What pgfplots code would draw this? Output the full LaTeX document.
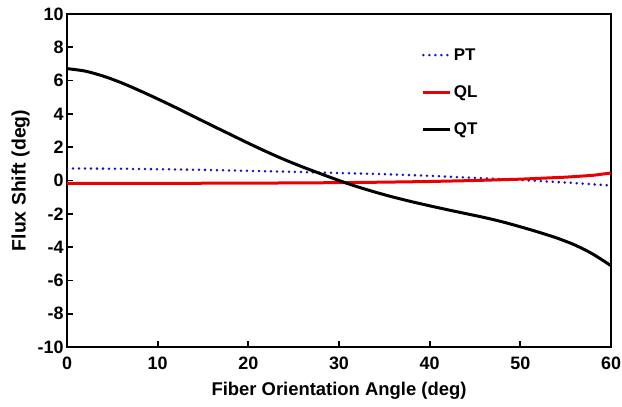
\documentclass[border=0pt]{standalone}
\usepackage{fontspec}
\setmainfont{Liberation Sans}
\usepackage{pgfplots}
\pgfplotsset{compat=1.18}

\definecolor{ptblue}{RGB}{20,20,185}
\definecolor{qlred}{RGB}{235,0,0}

\begin{document}
\begin{tikzpicture}
\begin{axis}[
    scale only axis,
    width=544bp, height=333bp,
    xmin=0, xmax=60, ymin=-10, ymax=10,
    xtick={0,10,...,60},
    ytick={-10,-8,...,10},
    tick pos=left,
    tick align=inside,
    major tick length=6bp,
    axis line style={line width=2.4bp},
    every tick/.style={black, line width=1.8bp},
    /pgf/number format/assume math mode=true,
    tick label style={font=\fontsize{18}{21}\selectfont\bfseries},
    xticklabel style={yshift=-6bp},
    xlabel style={font=\fontsize{18.5}{22}\selectfont\bfseries, yshift=-6bp},
    ylabel style={font=\fontsize{19.5}{23}\selectfont\bfseries, yshift=1bp},
    xlabel={Fiber Orientation Angle (deg)},
    ylabel={Flux Shift (deg)},
    legend style={draw=none, fill=none, at={(0.652,0.903)}, anchor=north west,
        font=\fontsize{17}{20}\selectfont\bfseries, row sep=20bp, inner sep=0pt},
    legend cell align=left,
    legend image code/.code={\draw[#1] (0bp,0bp) -- (27bp,0bp);},
]
\addplot[ptblue, line width=2.8bp, line cap=round, dash pattern=on 0pt off 6bp] coordinates {
(0,0.72) (5,0.71) (10,0.68) (15,0.64) (20,0.58) (25,0.52) (30,0.45) (35,0.38)
(40,0.28) (45,0.16) (50,0.03) (55,-0.12) (60,-0.30)};
\addlegendentry{PT}
\addplot[qlred, line width=3bp] coordinates {
(0,-0.17) (10,-0.17) (20,-0.16) (30,-0.13) (35,-0.10) (40,-0.06) (45,0.00)
(50,0.08) (55,0.20) (58,0.31) (60,0.45)};
\addlegendentry{QL}
\addplot[black, line width=3bp, smooth] coordinates {
(0,6.72) (2,6.57) (4,6.27) (6,5.87) (8,5.40) (10,4.90) (12,4.38) (14,3.84) (16,3.30)
(18,2.77) (20,2.24) (22,1.73) (24,1.25) (26,0.81) (28,0.40) (30,0.0) (32,-0.37)
(34,-0.70) (36,-1.0) (38,-1.27) (40,-1.52) (42,-1.76) (44,-1.99) (46,-2.22)
(48,-2.48) (50,-2.78) (52,-3.1) (54,-3.45) (56,-3.87) (58,-4.42) (60,-5.12)};
\addlegendentry{QT}
\end{axis}
\pgfresetboundingbox
\path ([shift={(-67bp,-60bp)}]current axis.south west) rectangle ([shift={(11bp,14bp)}]current axis.north east);
\end{tikzpicture}
\end{document}
